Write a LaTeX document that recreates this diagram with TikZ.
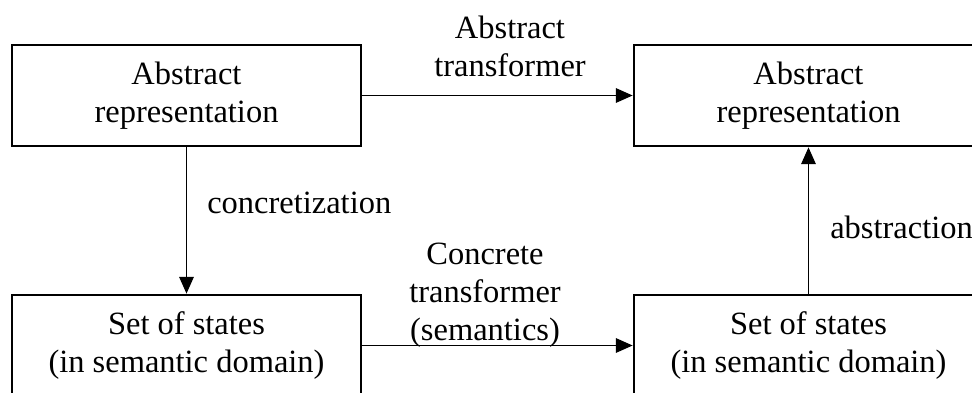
\documentclass[tikz,border=0pt]{standalone}
\usepackage{fontspec}
\setmainfont{Liberation Serif}
\usetikzlibrary{arrows.meta,positioning}
\tikzset{
  every node/.style={font=\fontsize{23.1}{27}\selectfont},
  domainbox/.style={draw=black,line width=1.9pt,minimum width=8.725cm,minimum height=2.525cm,align=center,inner sep=0pt},
  flow/.style={black,line width=1.4pt,-{Triangle[length=0.42cm,width=0.36cm]}},
  edgelabel/.style={align=center,inner sep=0pt}
}

\begin{document}
\begin{tikzpicture}[x=1cm,y=1cm]
\useasboundingbox (0,0) rectangle (24.3,9.8);
\clip (0,0) rectangle (24.3,9.8);
% boxes
\node[domainbox] (absL) at (4.6625,7.4125) {Abstract\\representation};
\node[domainbox] (absR) at (20.2125,7.4125) {Abstract\\representation};
\node[domainbox] (setL) at (4.6625,1.1625) {Set of states\\(in semantic domain)};
\node[domainbox] (setR) at (20.2125,1.1625) {Set of states\\(in semantic domain)};
% arrows between the boxes
\draw[flow] (absL.east) -- (absR.west);
\draw[flow] (setL.east) -- (setR.west);
\draw[flow] (absL.south) -- (setL.north);
\draw[flow] (setR.north) -- (absR.south);
% labels
\node[edgelabel] (lblAT) at (12.75,8.65) {Abstract\\transformer};
\node[edgelabel] (lblCT) at (12.125,2.425) {Concrete\\transformer\\(semantics)};
\node[edgelabel,anchor=west] (lblC) at (5.175,4.725) {concretization};
\node[edgelabel,anchor=west] (lblA) at (20.75,4.125) {abstraction};
\end{tikzpicture}
\end{document}
